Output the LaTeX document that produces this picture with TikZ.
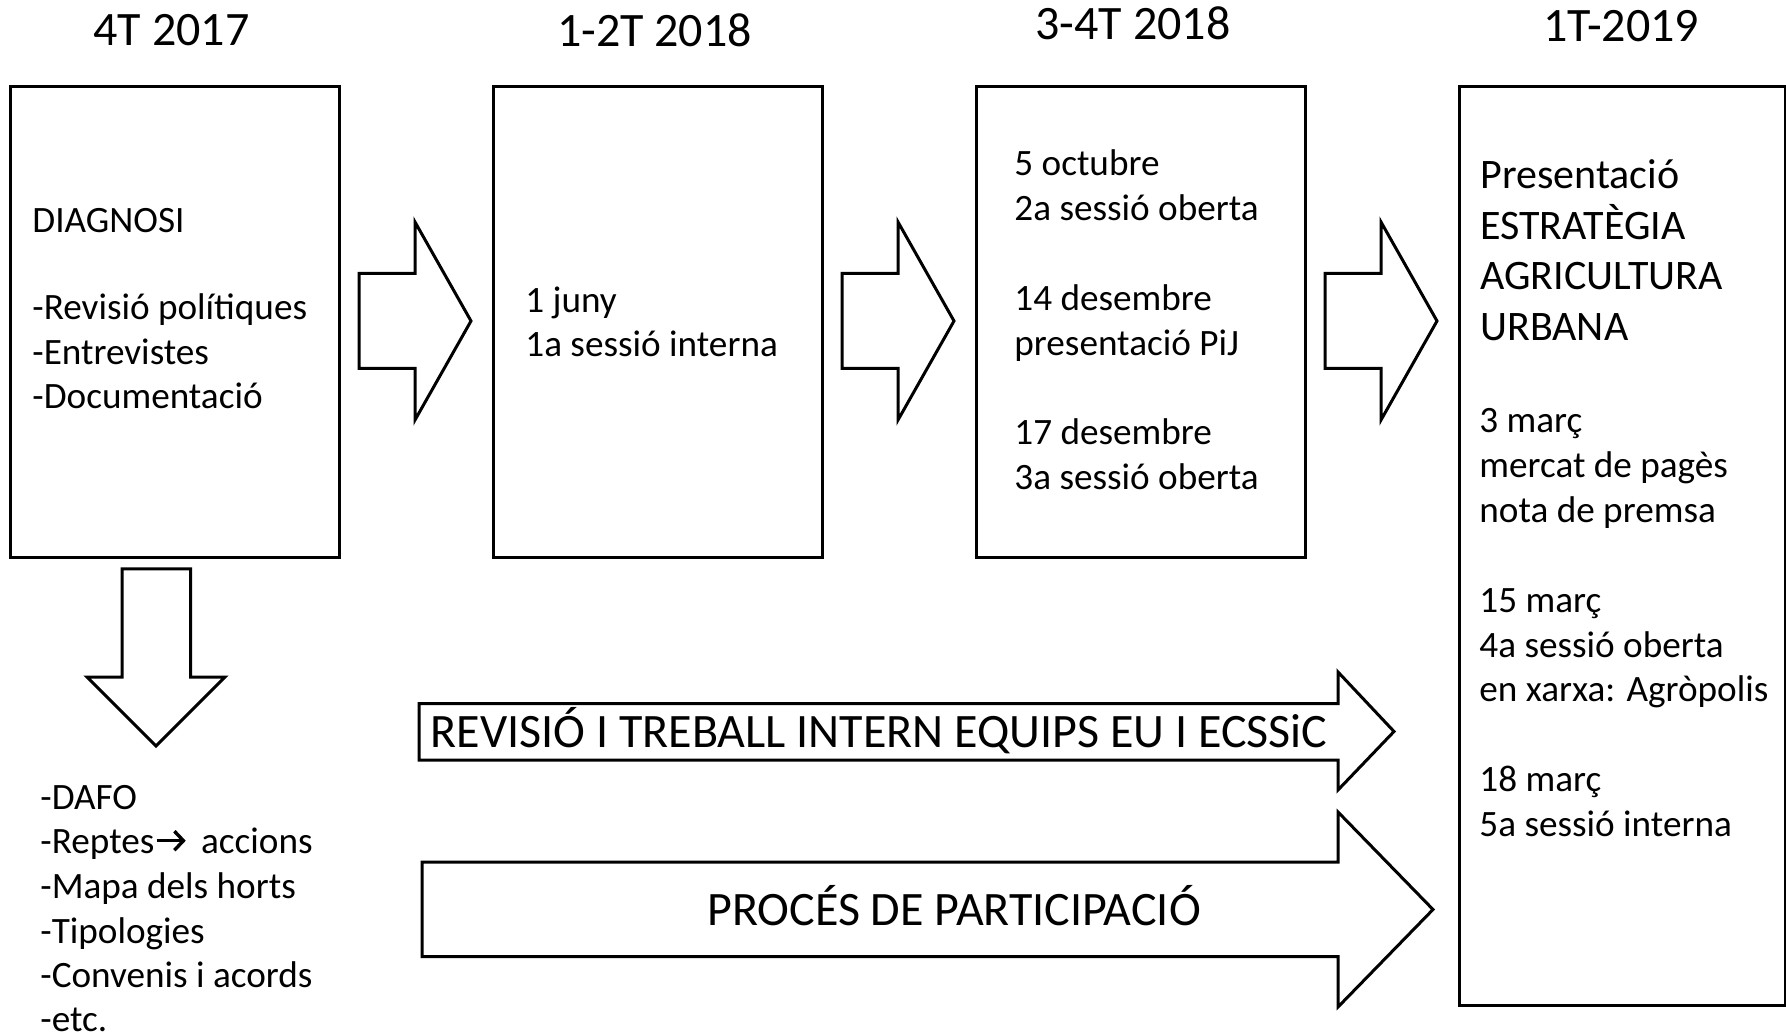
\documentclass[tikz,border=0pt]{standalone}
\usepackage{fontspec}
\setmainfont{Carlito}
\usetikzlibrary{arrows.meta}
\begin{document}
\begin{tikzpicture}[x=0.5pt,y=-0.5pt,
  box/.style={draw, line width=1.5pt, fill=white, inner sep=0pt, anchor=north west},
  blockarrow/.style={draw, line width=1.5pt, fill=white, line join=miter},
  txt/.style={anchor=base west, inner sep=0pt, font=\fontsize{18.6}{22}\selectfont},
  ttl/.style={anchor=base, inner sep=0pt, font=\fontsize{24}{29}\selectfont},
  bigtxt/.style={anchor=base west, inner sep=0pt, font=\fontsize{21}{25}\selectfont},
  arrtxt/.style={anchor=base west, inner sep=0pt, font=\fontsize{24}{29}\selectfont},
  smallarrow/.style={line width=1.7pt, -{Straight Barb[length=4.5pt,width=9.5pt,line width=1.7pt]}}]
\useasboundingbox (0,0) rectangle (1786,1036);

% titles
\node[ttl] (t1) at (171.5,45.5) {4T 2017};
\node[ttl] (t2) at (654.5,46.5) {1-2T 2018};
\node[ttl] (t3) at (1133,39.5) {3-4T 2018};
\node[ttl] (t4) at (1621,41.5) {1T-2019};

% boxes
\node[box, minimum width=164.5pt, minimum height=235.5pt] (b1) at (9,85) {};
\node[box, minimum width=164.5pt, minimum height=235.5pt] (b2) at (492,85) {};
\node[box, minimum width=164.5pt, minimum height=235.5pt] (b3) at (975,85) {};
\node[box, minimum width=163pt, minimum height=459.5pt] (b4) at (1458,85) {};

% right block arrows
\foreach \dx [count=\i] in {0,483,966}{
  \draw[blockarrow] (359+\dx,273.5) -- (415+\dx,273.5) -- (415+\dx,222) -- (471+\dx,321)
     -- (415+\dx,420) -- (415+\dx,368.5) -- (359+\dx,368.5) -- cycle;
}

% down arrow
\draw[blockarrow] (122,569) -- (190.5,569) -- (190.5,677) -- (225,677) -- (156,746)
   -- (87,677) -- (122,677) -- cycle;

% long arrows
\draw[blockarrow] (419,703.5) -- (1338,703.5) -- (1338,672) -- (1394,731.5) -- (1338,790)
   -- (1338,760) -- (419,760) -- cycle;
\draw[blockarrow] (422,862) -- (1338,862) -- (1338,812) -- (1433,909.5) -- (1338,1007)
   -- (1338,956.5) -- (422,956.5) -- cycle;

\node[arrtxt] (rev) at (430.5,747) {REVISIÓ I TREBALL INTERN EQUIPS EU I ECSSiC};
\node[arrtxt] (proc) at (707,925.5) {PROCÉS DE PARTICIPACIÓ};

% box 1 text
\node[txt] (d0) at (32,233) {DIAGNOSI};
\node[txt] (d1) at (32,320) {-Revisió polítiques};
\node[txt] (d2) at (32,364.5) {-Entrevistes};
\node[txt] (d3) at (32,409) {-Documentació};

% box 2 text
\node[txt] (j1) at (525,312.5) {1 juny};
\node[txt] (j2) at (525,357) {1a sessió interna};

% box 3 text
\node[txt] (o1) at (1014,176) {5 octubre};
\node[txt] (o2) at (1014,220.8) {2a sessió oberta};
\node[txt] (o3) at (1014,310.4) {14 desembre};
\node[txt] (o4) at (1014,355.2) {presentació PiJ};
\node[txt] (o5) at (1014,444.8) {17 desembre};
\node[txt] (o6) at (1014,489.6) {3a sessió oberta};

% box 4 text
\node[bigtxt] (p1) at (1480,189) {Presentació};
\node[bigtxt] (p2) at (1480,239.5) {ESTRATÈGIA};
\node[bigtxt] (p3) at (1480,290) {AGRICULTURA};
\node[bigtxt] (p4) at (1480,340.5) {URBANA};
\node[txt] (m1) at (1479,433) {3 març};
\node[txt] (m2) at (1479,477.8) {mercat de pagès};
\node[txt] (m3) at (1479,522.6) {nota de premsa};
\node[txt] (m4) at (1479,612.2) {15 març};
\node[txt] (m5) at (1479,657) {4a sessió oberta};
\node[txt] (m6) at (1479,701.8) {en xarxa: Agròpolis};
\node[txt] (m7) at (1479,791.4) {18 març};
\node[txt] (m8) at (1479,836.2) {5a sessió interna};

% list below box 1
\node[txt] (l1) at (40,809) {-DAFO};
\node[txt] (l2a) at (40,853.7) {-Reptes};
\node[txt, xshift=23pt] (l2b) at (l2a.base east) {accions};
\draw[smallarrow] ([xshift=1pt,yshift=6.5pt]l2a.base east) -- ([xshift=-7.5pt,yshift=6.5pt]l2b.base west);
\node[txt] (l3) at (40,898.4) {-Mapa dels horts};
\node[txt] (l4) at (40,943.1) {-Tipologies};
\node[txt] (l5) at (40,987.8) {-Convenis i acords};
\node[txt] (l6) at (40,1031) {-etc.};
\end{tikzpicture}
\end{document}
